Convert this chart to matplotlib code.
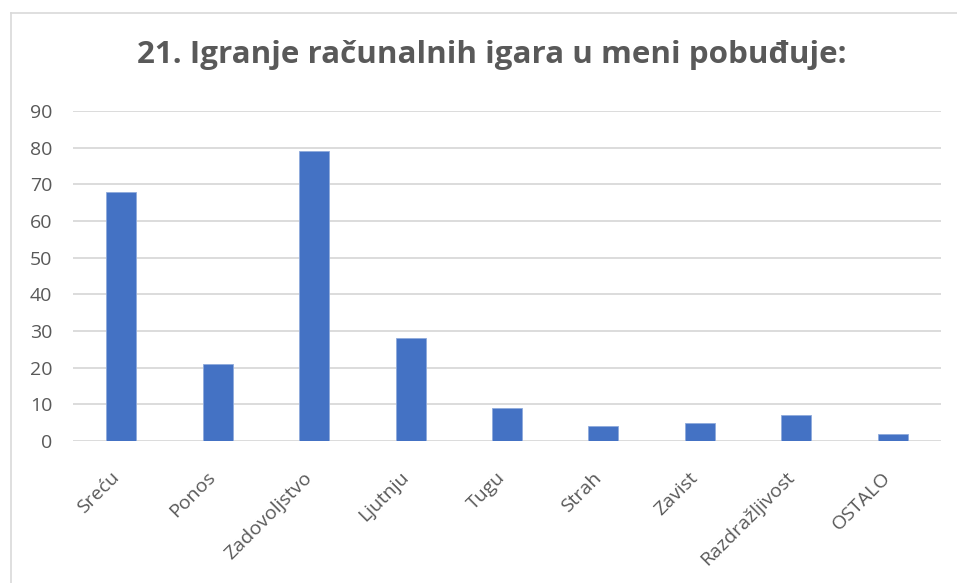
import matplotlib
matplotlib.use("Agg")
import matplotlib.pyplot as plt
from matplotlib.lines import Line2D
from matplotlib.transforms import ScaledTranslation

categories = ["Sreću", "Ponos", "Zadovoljstvo", "Ljutnju", "Tugu", "Strah", "Zavist", "Razdražljivost", "OSTALO"]
values = [68, 21, 79, 28, 9, 4, 5, 7, 2]
yticks = [0, 10, 20, 30, 40, 50, 60, 70, 80, 90]
title = "21. Igranje računalnih igara u meni pobuđuje:"

plt.rcParams['font.family'] = ['Open Sans', 'DejaVu Sans']
W, H = 957, 583
fig = plt.figure(figsize=(W/100, H/100), dpi=100)

ax = fig.add_axes([73/W, 1-441/H, (941-73)/W, (441-111)/H])
x = range(len(categories))
ax.bar(x, values, width=0.31, color="#4472C4", edgecolor="#8FAADC", linewidth=0.6, zorder=3)
ax.set_xlim(-0.5, len(categories)-0.5)
ax.set_ylim(0, 90)
ax.set_yticks(yticks)
ax.set_yticklabels([str(t) for t in yticks], color="#595959", fontsize=14)
ax.set_xticks(list(x))
ax.set_xticklabels(categories, rotation=45, ha="right", rotation_mode="anchor",
                   color="#595959", fontsize=14)
ax.tick_params(axis="both", length=0)
ax.tick_params(axis="y", pad=15)
ax.tick_params(axis="x", pad=14)
offset = ScaledTranslation(-11/100, -8/100, fig.dpi_scale_trans)
for lbl in ax.get_xticklabels():
    lbl.set_transform(lbl.get_transform() + offset)
ax.grid(axis="y", color="#D9D9D9", linewidth=1.3, zorder=0)
for s in ax.spines.values():
    s.set_visible(False)

fig.text(492/W, 1-55/H, title, ha="center", va="center", fontsize=22.6, fontweight="bold", color="#595959")

# chart border (left and top only visible)
fig.add_artist(Line2D([10.5/W, 10.5/W], [0, 1-13/H], color="#D9D9D9", linewidth=1.2))
fig.add_artist(Line2D([10.5/W, 1], [1-13/H, 1-13/H], color="#D9D9D9", linewidth=1.2))

fig.savefig("out.png", dpi=100)
